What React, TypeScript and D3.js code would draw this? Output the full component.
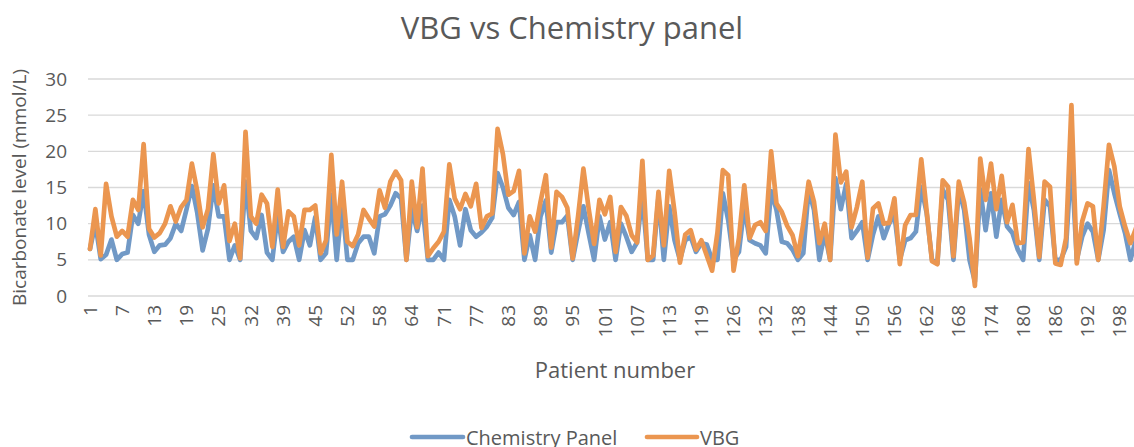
import * as d3 from "d3";

// patient numbers: 1..201 with a few numbers absent from the sheet
const missingPatients = [28, 35, 48, 67, 122];
const patients = d3.range(1, 202).filter((n) => !missingPatients.includes(n)).map(String);

const chemistryPanel = [
  6.5, 10, 5.1, 5.7, 7.8, 5, 5.8, 6, 11.2, 10,
  14.5, 8.5, 6.1, 7, 7.1, 8, 10, 9, 12, 15.2,
  11.5, 6.3, 9.3, 15.3, 11, 11, 5, 7, 5, 15.8,
  9, 8, 11.2, 6, 5, 11.3, 6.1, 7.5, 8.2, 5,
  9.1, 7, 10.9, 5, 5.9, 14, 5, 13, 5, 5,
  7.3, 8.2, 8.2, 5.9, 11, 11.3, 12.5, 14.2, 13.5, 5,
  12, 9, 12.5, 5, 5, 6, 5, 13.3, 11, 7,
  12, 9.1, 8.2, 8.8, 9.6, 10.8, 17, 15, 12.2, 11.2,
  13, 5, 8.4, 5, 11, 13.2, 6, 10.2, 10.2, 11.1,
  5, 8.8, 12.4, 8.6, 5, 11, 7.8, 10.2, 5, 10,
  8.2, 6.1, 7.4, 14, 5, 5, 13.7, 5, 12.4, 7.7,
  5, 7.7, 8.2, 6.1, 7.3, 7.1, 5, 5, 14.2, 10.5,
  5, 6.1, 12.4, 7.7, 7.3, 7, 5.9, 14.5, 11.9, 7.5,
  7.3, 6.4, 5, 5.9, 14.7, 11.9, 5, 8.7, 5, 16.3,
  12, 15.5, 8, 9, 10.2, 5, 8.5, 11, 8, 10,
  11.2, 5, 7.7, 8, 8.9, 15.1, 11.5, 5, 4.5, 14.7,
  13.3, 5, 14.7, 11.9, 5, 2, 14.7, 9.1, 14.2, 8.2,
  13.3, 9.6, 8.7, 6.4, 5, 15.6, 11.9, 5, 13.3, 12.4,
  5, 5, 6.8, 19, 5, 8.2, 10, 8.9, 5, 9.1,
  17.4, 14.2, 11.4, 8.7, 5, 7.7,
];

const vbg = [
  6.5, 12, 5.6, 15.5, 11, 8.2, 9, 8.2, 13.3, 11.9,
  21, 9.3, 8.1, 8.7, 10, 12.4, 10.3, 12.3, 13.3, 18.3,
  14.5, 9.5, 12, 19.6, 12.8, 15.3, 7.6, 10, 5.2, 22.7,
  11, 10, 14, 12.8, 6.8, 14.7, 6.8, 11.7, 11, 7,
  11.9, 11.9, 12.5, 5.9, 7.7, 19.5, 8.5, 15.8, 7.5, 6.9,
  8.5, 11.9, 10.7, 9.6, 14.6, 12.2, 15.8, 17.2, 16, 5,
  15.8, 9.5, 17.6, 5.5, 6.6, 7.5, 8.9, 18.2, 13.5, 12,
  14.1, 12.4, 15.5, 9.4, 11, 11.4, 23.1, 19.6, 14, 14.5,
  17.3, 5.9, 11, 8.9, 13, 16.7, 6.7, 14.4, 13.7, 12.2,
  5.2, 11, 17.6, 12, 7.2, 13.3, 11.3, 13.7, 6.1, 12.3,
  11.1, 8.4, 7.4, 18.7, 5, 5.6, 14.4, 7, 17.3, 11.6,
  4.6, 8.5, 9.1, 6.4, 7.7, 5.6, 3.5, 8.8, 17.4, 16.7,
  3.5, 8, 15.3, 8, 9.8, 10.2, 9, 20, 12.8, 11.6,
  9.7, 8.4, 5.5, 10, 15.8, 13, 7.3, 10, 5, 22.3,
  15.7, 17.2, 9.5, 12.3, 15.8, 5.3, 12.1, 12.8, 10, 10.1,
  13.5, 4.4, 9.8, 11.2, 11.2, 18.9, 11.8, 4.8, 4.4, 16,
  15.1, 5.5, 15.8, 12.9, 8, 1.4, 19, 13.3, 18.3, 12,
  16.6, 10.2, 12.6, 7.3, 7.4, 20.3, 13.3, 5.4, 15.8, 15.1,
  4.5, 4.3, 8, 26.4, 4.5, 10.3, 12.8, 12.4, 5, 12.4,
  20.9, 17.9, 12.4, 9.6, 7.3, 9.3,
];

const seriesNames = ["Chemistry Panel", "VBG"];
const seriesColors = ["#7199c6", "#eb9650"];
const yTicks = [0, 5, 10, 15, 20, 25, 30];

const width = 1134;
const height = 447;
const font = "'Open Sans', sans-serif";
const textColor = "#595959";

export default function App() {
  const plot = { left: 88, right: 1140, top: 79, bottom: 296 };
  const step = 5.363;

  const x = d3
    .scalePoint<string>()
    .domain(patients)
    .range([90, 90 + step * (patients.length - 1)]);
  const y = d3.scaleLinear().domain([0, 30]).range([plot.bottom, plot.top]);

  const line = d3
    .line<number>()
    .x((_, i) => x(patients[i]) as number)
    .y((d) => y(d));

  const xLabels = patients.filter((_, i) => i % 6 === 0);

  return (
    <div style={{ position: "absolute", left: 0, top: 0 }}>
      <svg width={width} height={height} style={{ display: "block", background: "#fff" }}>
        {/* title */}
        <text x={572} y={39} textAnchor="middle" fontFamily={font} fontSize={31} fill={textColor}>
          VBG vs Chemistry panel
        </text>

        {/* gridlines + y ticks */}
        {yTicks.map((t) => (
          <g key={t}>
            <line x1={plot.left} x2={plot.right} y1={y(t)} y2={y(t)} stroke="#d9d9d9" strokeWidth={1.3} />
            <text x={67} y={y(t)} dy="0.35em" textAnchor="end" fontFamily={font} fontSize={19} fill={textColor}>
              {t}
            </text>
          </g>
        ))}

        {/* x tick labels */}
        {xLabels.map((p) => (
          <text
            key={p}
            transform={`translate(${x(p)},${plot.bottom + 9}) rotate(-90)`}
            dy="0.35em"
            textAnchor="end"
            fontFamily={font}
            fontSize={19}
            fill={textColor}
          >
            {p}
          </text>
        ))}

        {/* series */}
        {[chemistryPanel, vbg].map((values, k) => (
          <path
            key={k}
            d={line(values) || ""}
            fill="none"
            stroke={seriesColors[k]}
            strokeWidth={4.7}
            strokeLinejoin="round"
            strokeLinecap="round"
          />
        ))}

        {/* axis titles */}
        <text
          transform={`translate(26,${(plot.top + plot.bottom) / 2}) rotate(-90)`}
          textAnchor="middle"
          fontFamily={font}
          fontSize={19}
          fill={textColor}
        >
          Bicarbonate level (mmol/L)
        </text>
        <text x={615} y={378} textAnchor="middle" fontFamily={font} fontSize={22} fill={textColor}>
          Patient number
        </text>

        {/* legend (cut at the bottom edge, as in the source image) */}
        <g>
          <line x1={412} x2={463} y1={437} y2={437} stroke={seriesColors[0]} strokeWidth={4.7} strokeLinecap="round" />
          <text x={466} y={445} fontFamily={font} fontSize={20} fill={textColor}>
            {seriesNames[0]}
          </text>
          <line x1={647} x2={697} y1={437} y2={437} stroke={seriesColors[1]} strokeWidth={4.7} strokeLinecap="round" />
          <text x={700} y={445} fontFamily={font} fontSize={20} fill={textColor}>
            {seriesNames[1]}
          </text>
        </g>
      </svg>
    </div>
  );
}
